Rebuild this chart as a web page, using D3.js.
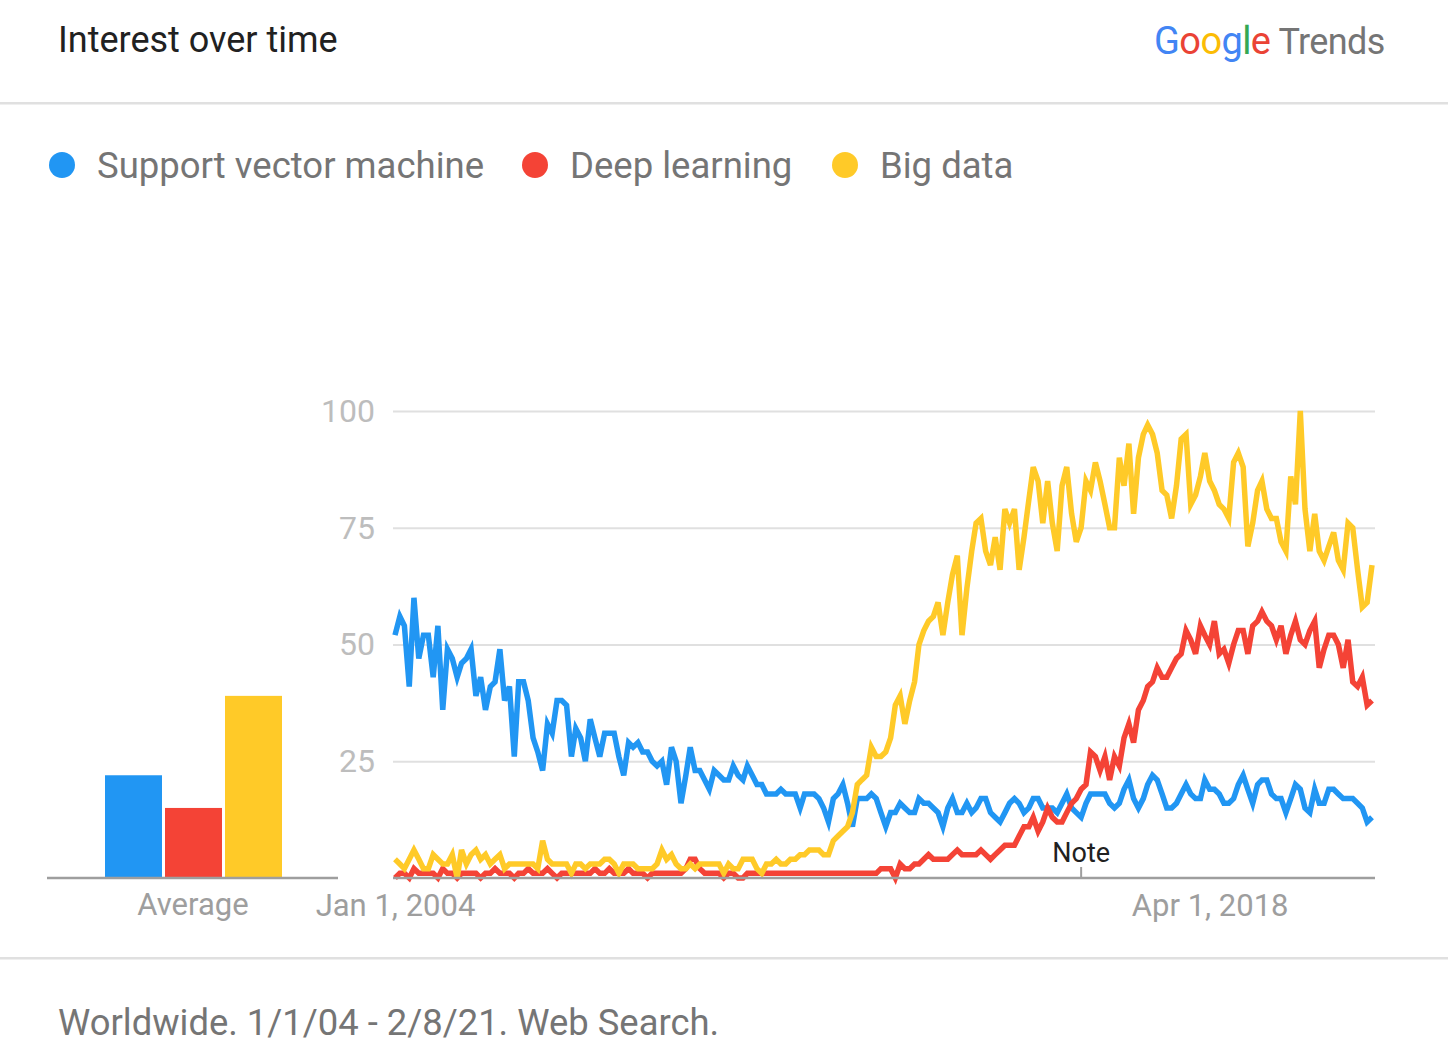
<!DOCTYPE html>
<html>
<head>
<meta charset="utf-8">
<script src="https://cdn.jsdelivr.net/npm/d3@7"></script>
<style>
  body { margin: 0; background: #fff; font-family: Roboto, "Noto Sans", sans-serif; }
  svg text { font-family: Roboto, "Noto Sans", sans-serif; }
</style>
</head>
<body>
<script>
// search terms and their colours
const terms = ['Support vector machine', 'Deep learning', 'Big data'];
const colors = ['#2196F3', '#F44336', '#FFCA28'];

// monthly interest, Jan 2004 .. Feb 2021
const svm = [
  52, 56, 54, 41, 60, 47, 52, 52, 43, 54,
  36, 49, 47, 43, 46, 47, 49, 39, 43, 36,
  41, 42, 49, 38, 41, 26, 42, 42, 38, 30,
  27, 23, 33, 31, 38, 38, 37, 26, 32, 30,
  25, 34, 30, 26, 31, 31, 31, 26, 22, 29,
  28, 29, 27, 27, 25, 24, 25, 20, 28, 25,
  16, 22, 28, 23, 23, 21, 19, 23, 22, 21,
  21, 24, 22, 21, 24, 22, 20, 20, 18, 18,
  18, 19, 18, 18, 18, 15, 18, 18, 18, 17,
  15, 12, 17, 18, 20, 16, 11, 17, 17, 17,
  18, 17, 14, 11, 14, 14, 16, 15, 14, 14,
  17, 16, 16, 15, 14, 11, 15, 17, 14, 14,
  16, 14, 15, 17, 17, 14, 13, 12, 14, 16,
  17, 16, 14, 15, 17, 17, 15, 15, 15, 14,
  16, 18, 15, 14, 13, 16, 18, 18, 18, 18,
  16, 15, 16, 19, 21, 17, 15, 17, 20, 22,
  21, 18, 15, 15, 16, 18, 20, 18, 17, 17,
  21, 19, 19, 18, 16, 16, 17, 20, 22, 19,
  16, 20, 21, 21, 18, 17, 17, 14, 17, 20,
  19, 15, 14, 19, 16, 16, 19, 19, 18, 17,
  17, 17, 16, 15, 12, 13
];
const deepLearning = [
  0, 1, 1, 0, 2, 1, 1, 1, 1, 0,
  2, 1, 1, 0, 1, 1, 1, 1, 0, 1,
  1, 2, 1, 1, 1, 0, 1, 1, 2, 1,
  1, 1, 2, 1, 0, 1, 1, 1, 1, 1,
  1, 1, 2, 1, 1, 2, 1, 1, 1, 2,
  1, 1, 1, 0, 1, 1, 1, 1, 1, 1,
  1, 2, 4, 4, 2, 1, 1, 1, 1, 0,
  1, 1, 0, 0, 1, 1, 1, 1, 1, 1,
  1, 1, 1, 1, 1, 1, 1, 1, 1, 1,
  1, 1, 1, 1, 1, 1, 1, 1, 1, 1,
  1, 1, 2, 2, 2, 0, 3, 2, 2, 3,
  3, 4, 5, 4, 4, 4, 4, 5, 6, 5,
  5, 5, 5, 6, 5, 4, 5, 6, 7, 7,
  7, 9, 11, 11, 13, 10, 12, 15, 13, 12,
  12, 14, 16, 17, 19, 20, 27, 26, 23, 26,
  21, 26, 24, 30, 33, 29, 36, 38, 41, 42,
  45, 43, 43, 45, 47, 48, 53, 51, 48, 54,
  52, 50, 55, 48, 49, 46, 50, 53, 53, 48,
  54, 55, 57, 55, 54, 51, 54, 48, 52, 55,
  51, 50, 53, 55, 45, 49, 52, 52, 50, 45,
  51, 42, 41, 43, 37, 38
];
const bigData = [
  4, 3, 2, 4, 6, 4, 2, 2, 5, 4,
  3, 3, 5, 0, 6, 3, 5, 6, 4, 5,
  3, 4, 5, 2, 3, 3, 3, 3, 3, 3,
  2, 8, 4, 3, 3, 3, 3, 1, 3, 3,
  2, 3, 3, 3, 4, 4, 3, 1, 3, 3,
  3, 2, 2, 2, 2, 3, 6, 4, 5, 3,
  2, 2, 3, 2, 3, 3, 3, 3, 3, 1,
  3, 2, 2, 4, 4, 4, 2, 1, 3, 3,
  4, 3, 3, 4, 4, 5, 5, 6, 6, 6,
  5, 5, 8, 9, 10, 11, 14, 20, 21, 22,
  28, 26, 26, 27, 30, 37, 39, 33, 38, 42,
  50, 53, 55, 56, 59, 52, 59, 65, 69, 52,
  62, 70, 76, 77, 70, 67, 73, 66, 79, 76,
  79, 66, 73, 81, 88, 85, 76, 85, 76, 70,
  84, 88, 78, 72, 75, 85, 83, 89, 85, 80,
  75, 75, 90, 84, 93, 78, 90, 95, 97, 95,
  91, 83, 82, 77, 84, 94, 95, 80, 82, 86,
  91, 85, 83, 80, 79, 77, 89, 91, 88, 71,
  76, 83, 85, 79, 77, 77, 72, 70, 86, 80,
  100, 79, 70, 78, 70, 68, 71, 74, 68, 66,
  76, 75, 66, 58, 59, 67
];
const averages = [22, 15, 39];

const yTicks = [25, 50, 75, 100];
const xTickDates = [new Date(2004, 0, 1), new Date(2018, 3, 1)];
const noteDate = new Date(2016, 0, 1);

const months = d3.timeMonth.range(new Date(2004, 0, 1), new Date(2021, 2, 1));
const seriesList = [svm, deepLearning, bigData];

const W = 1448, H = 1062;
const svg = d3.select('body').append('svg')
    .attr('width', W)
    .attr('height', H);

// header
svg.append('text')
    .attr('x', 58).attr('y', 52)
    .style('font-size', '36px')
    .style('fill', '#212121')
    .text('Interest over time');

const logo = svg.append('text')
    .attr('x', 1154).attr('y', 54)
    .style('font-size', '38px')
    .style('letter-spacing', '-0.6px');
const logoLetters = [['G', '#4285F4'], ['o', '#EA4335'], ['o', '#FBBC05'], ['g', '#4285F4'], ['l', '#34A853'], ['e', '#EA4335']];
logoLetters.forEach(l => logo.append('tspan').style('fill', l[1]).text(l[0]));
logo.append('tspan').attr('dx', 8).style('fill', '#757575').style('font-size', '36px').text('Trends');

svg.append('rect').attr('x', 0).attr('y', 102).attr('width', W).attr('height', 2.5).style('fill', '#e0e0e0');
svg.append('rect').attr('x', 0).attr('y', 957).attr('width', W).attr('height', 2.5).style('fill', '#e0e0e0');

// legend
const legendX = [62, 535, 845];
const legend = svg.selectAll('g.legend')
    .data(terms)
    .enter()
    .append('g')
    .attr('class', 'legend')
    .attr('transform', (d, i) => `translate(${legendX[i]},165)`);
legend.append('circle')
    .attr('r', 13)
    .style('fill', (d, i) => colors[i]);
legend.append('text')
    .attr('x', 35).attr('y', 13)
    .style('font-size', '36.5px')
    .style('fill', '#757575')
    .text(d => d);

// scales
const x = d3.scaleTime()
    .domain([months[0], months[months.length - 1]])
    .range([395, 1372]);
const y = d3.scaleLinear()
    .domain([0, 100])
    .range([878, 411]);

// grid + y labels
const yAxis = svg.append('g')
    .attr('transform', 'translate(393,0)')
    .call(d3.axisLeft(y).tickValues(yTicks).tickSize(-982).tickPadding(18));
yAxis.select('.domain').remove();
yAxis.selectAll('.tick line').style('stroke', '#e0e0e0').style('stroke-width', 2);
yAxis.selectAll('.tick text')
    .style('font-size', '32px')
    .style('fill', '#bdbdbd')
    .attr('font-family', null);

// average bars
const band = d3.scaleBand()
    .domain(terms)
    .range([105, 282])
    .paddingInner(0.05);
svg.selectAll('rect.avg')
    .data(averages)
    .enter()
    .append('rect')
    .attr('class', 'avg')
    .attr('x', (d, i) => band(terms[i]))
    .attr('y', d => y(d))
    .attr('width', band.bandwidth())
    .attr('height', d => y(0) - y(d))
    .style('fill', (d, i) => colors[i]);
svg.append('line')
    .attr('x1', 47).attr('x2', 338)
    .attr('y1', y(0)).attr('y2', y(0))
    .style('stroke', '#9e9e9e').style('stroke-width', 2.5);
svg.append('text')
    .attr('x', 193).attr('y', 915)
    .attr('text-anchor', 'middle')
    .style('font-size', '31px')
    .style('fill', '#9e9e9e')
    .text('Average');

// lines
const line = d3.line()
    .x((d, i) => x(months[i]))
    .y(d => y(d));
svg.selectAll('path.series')
    .data(seriesList)
    .enter()
    .append('path')
    .attr('class', 'series')
    .attr('d', d => line(d))
    .style('fill', 'none')
    .style('stroke', (d, i) => colors[i])
    .style('stroke-width', 5.5)
    .style('stroke-linejoin', 'miter');

// x axis
const xAxis = svg.append('g')
    .attr('transform', `translate(0,${y(0)})`)
    .call(d3.axisBottom(x).tickValues(xTickDates).tickSize(0).tickPadding(16)
        .tickFormat(d3.timeFormat('%b %-d, %Y')));
xAxis.select('.domain')
    .attr('d', 'M393,0H1375')
    .style('stroke', '#9e9e9e').style('stroke-width', 2.5);
xAxis.selectAll('.tick text')
    .style('font-size', '31px')
    .style('fill', '#9e9e9e')
    .attr('font-family', null);

// note marker
svg.append('line')
    .attr('x1', x(noteDate)).attr('x2', x(noteDate))
    .attr('y1', y(0) - 11).attr('y2', y(0))
    .style('stroke', '#9e9e9e').style('stroke-width', 2);
svg.append('text')
    .attr('x', x(noteDate)).attr('y', 862)
    .attr('text-anchor', 'middle')
    .style('font-size', '27px')
    .style('fill', '#212121')
    .text('Note');

// footer
svg.append('text')
    .attr('x', 58).attr('y', 1035)
    .style('font-size', '36.4px')
    .style('fill', '#757575')
    .text('Worldwide. 1/1/04 - 2/8/21. Web Search.');
</script>
</body>
</html>
